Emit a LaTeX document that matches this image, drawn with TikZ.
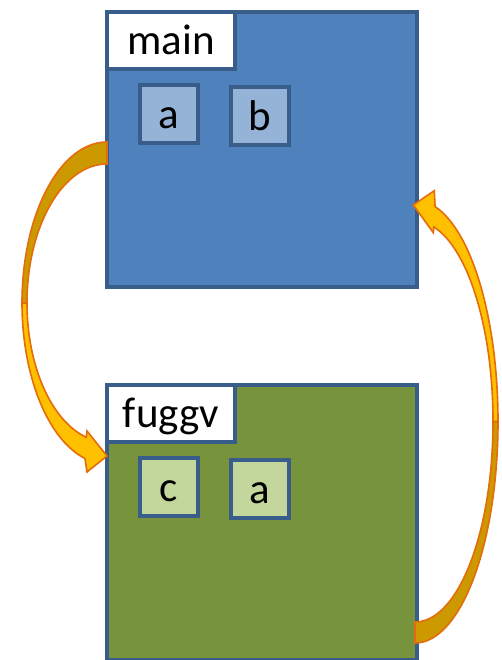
\documentclass[tikz,border=0pt]{standalone}
\usepackage{fontspec}
\setmainfont{Carlito}
\usetikzlibrary{positioning, calc}
\definecolor{framecol}{HTML}{385D8A}
\definecolor{mainfill}{HTML}{4F81BD}
\definecolor{mainvar}{HTML}{95B3D7}
\definecolor{funcfill}{HTML}{77933C}
\definecolor{funcvar}{HTML}{C3D69B}
\definecolor{arrowline}{HTML}{E46C0A}
\definecolor{arrowfront}{HTML}{FFC000}
\definecolor{arrowback}{HTML}{CC9900}
\tikzset{
    frame/.style={
        draw=framecol, line width=3.5pt,
        minimum width=310pt, minimum height=275pt,
        inner sep=0pt, outer sep=0pt
    },
    namebox/.style={
        draw=framecol, fill=white, line width=3.5pt,
        minimum width=128pt, minimum height=57pt,
        text height=29pt, text depth=0pt,
        inner sep=0pt, outer sep=0pt, anchor=north west
    },
    varbox/.style={
        draw=framecol, line width=3.5pt, minimum size=58pt,
        text height=29pt, text depth=0pt,
        inner sep=0pt, outer sep=0pt
    },
    callarrow/.style={draw=arrowline, line width=1.6pt}
}

\begin{document}
\begin{tikzpicture}[x=1pt, y=1pt, font=\fontsize{43}{50}\selectfont]
\useasboundingbox (0,0) rectangle (501,660);

% Frame of main
\node[frame, fill=mainfill] (main) at (262,510.5) {};
\node[namebox] (mainName) at (main.north west) {main};
\node[varbox, fill=mainvar, below right = 16pt and 33pt of mainName.south west] (mainA) {a};
\node[varbox, fill=mainvar, right = 33pt of mainA, yshift=-2pt] (mainB) {b};

% Frame of fuggv
\node[frame, fill=funcfill, below = 98pt of main] (fuggv) {};
\node[namebox] (fuggvName) at (fuggv.north west) {fuggv};
\node[varbox, fill=funcvar, below right = 16pt and 33pt of fuggvName.south west] (fuggvC) {c};
\node[varbox, fill=funcvar, right = 33pt of fuggvC, yshift=-2pt] (fuggvA) {a};

% Call arrow: main -> fuggv
\coordinate (lc) at ([yshift=-153.5pt]main.west);
\coordinate (ltip) at ([yshift=66.5pt]fuggv.west);
\filldraw[callarrow, fill=arrowback] ($(lc)+(90:85pt and 161pt)$)
    arc[start angle=90, end angle=180, x radius=85pt, y radius=161pt]
    -- ($(lc)+(180:80pt and 139pt)$)
    arc[start angle=180, end angle=90, x radius=80pt, y radius=139pt] -- cycle;
\filldraw[callarrow, fill=arrowfront] ($(lc)+(180:85pt and 161pt)$)
    arc[start angle=180, end angle=255, x radius=85pt, y radius=161pt]
    -- ([shift={(-20pt,-16pt)}]ltip) -- (ltip) -- ([shift={(-20pt,25pt)}]ltip)
    -- ($(lc)+(255:80pt and 139pt)$)
    arc[start angle=255, end angle=180, x radius=80pt, y radius=139pt] -- cycle;

% Return arrow: fuggv -> main
\coordinate (rc) at ([xshift=-2pt, yshift=101pt]fuggv.east);
\coordinate (rtip) at ([xshift=-3.7pt, yshift=-55.5pt]main.east);
\filldraw[callarrow, fill=arrowback] ($(rc)+(270:83pt and 221.5pt)$)
    arc[start angle=270, end angle=360, x radius=83pt, y radius=221.5pt]
    -- ($(rc)+(0:78pt and 200.5pt)$)
    arc[start angle=360, end angle=270, x radius=78pt, y radius=200.5pt] -- cycle;
\filldraw[callarrow, fill=arrowfront] ($(rc)+(0:83pt and 221.5pt)$)
    arc[start angle=0, end angle=76, x radius=83pt, y radius=221.5pt]
    -- ([shift={(21pt,14.3pt)}]rtip) -- (rtip) -- ([shift={(20pt,-27.7pt)}]rtip)
    -- ($(rc)+(76:78pt and 200.5pt)$)
    arc[start angle=76, end angle=0, x radius=78pt, y radius=200.5pt] -- cycle;

\end{tikzpicture}
\end{document}
